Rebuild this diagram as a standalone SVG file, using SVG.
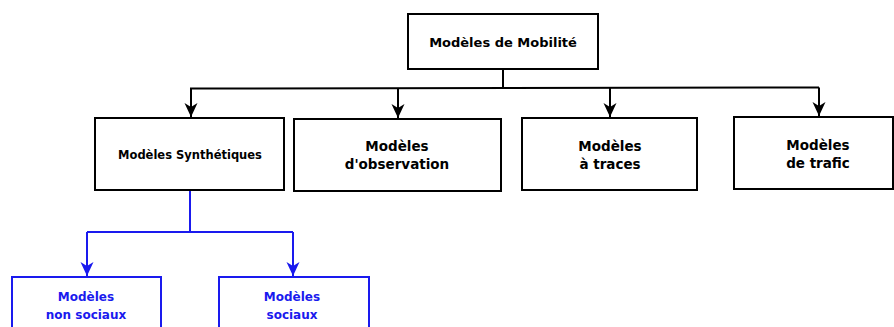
<svg xmlns="http://www.w3.org/2000/svg" width="894" height="327" viewBox="0 0 894 327">
  <style>
    .box { fill: #ffffff; stroke: #000000; stroke-width: 2; }
    .sub { fill: #ffffff; stroke: #1a1aee; stroke-width: 2; }
    .lbl { font-family: "DejaVu Sans", Verdana, sans-serif; font-weight: bold; text-anchor: middle; fill: #000000; }
    .blbl { font-family: "DejaVu Sans", Verdana, sans-serif; font-weight: bold; text-anchor: middle; fill: #1a1aee; font-size: 12px; }
    .wire { fill: none; stroke: #000000; stroke-width: 2; }
    .bwire { fill: none; stroke: #1a1aee; stroke-width: 2; }
  </style>
  <defs>
    <marker id="ah" markerWidth="15" markerHeight="14" refX="14" refY="7" orient="auto" markerUnits="userSpaceOnUse">
      <path d="M0,0.5 L14,7 L0,13.5 L4,7 Z" fill="#000000"/>
    </marker>
    <marker id="bah" markerWidth="15" markerHeight="14" refX="14" refY="7" orient="auto" markerUnits="userSpaceOnUse">
      <path d="M0,0.5 L14,7 L0,13.5 L4,7 Z" fill="#1a1aee"/>
    </marker>
  </defs>

  <g id="connectors">
    <path class="wire" d="M503,69 V88"/>
    <path class="wire" d="M190,88.5 L819,87.5"/>
    <path class="wire" d="M191,88.5 V117" marker-end="url(#ah)"/>
    <path class="wire" d="M398,88 V118" marker-end="url(#ah)"/>
    <path class="wire" d="M610,88 V117" marker-end="url(#ah)"/>
    <path class="wire" d="M819,87.5 V116" marker-end="url(#ah)"/>
    <path class="bwire" d="M190,191 V232"/>
    <path class="bwire" d="M87,232 H293"/>
    <path class="bwire" d="M87,232 V276" marker-end="url(#bah)"/>
    <path class="bwire" d="M293,232 V276" marker-end="url(#bah)"/>
  </g>

  <g id="mobilite">
    <rect class="box" x="408" y="14" width="190" height="55"/>
    <text class="lbl" x="503" y="47" font-size="13">Modèles de Mobilité</text>
  </g>

  <g id="synthetiques">
    <rect class="box" x="95" y="118" width="189" height="72"/>
    <text class="lbl" x="190" y="159" font-size="11.5">Modèles Synthétiques</text>
  </g>

  <g id="observation">
    <rect class="box" x="294" y="119" width="207" height="72"/>
    <text class="lbl" x="397" y="151" font-size="13.5">Modèles</text>
    <text class="lbl" x="397" y="169" font-size="13.5">d'observation</text>
  </g>

  <g id="traces">
    <rect class="box" x="522" y="118" width="175" height="72"/>
    <text class="lbl" x="610" y="151" font-size="13.5">Modèles</text>
    <text class="lbl" x="610" y="169" font-size="13.5">à traces</text>
  </g>

  <g id="trafic">
    <rect class="box" x="734" y="117" width="159" height="72"/>
    <text class="lbl" x="818" y="150" font-size="13.5">Modèles</text>
    <text class="lbl" x="818" y="168" font-size="13.5">de trafic</text>
  </g>

  <g id="non-sociaux">
    <rect class="sub" x="12" y="277" width="149" height="60"/>
    <text class="blbl" x="86" y="301">Modèles</text>
    <text class="blbl" x="86" y="319">non sociaux</text>
  </g>

  <g id="sociaux">
    <rect class="sub" x="219" y="277" width="150" height="60"/>
    <text class="blbl" x="292" y="301">Modèles</text>
    <text class="blbl" x="292" y="319">sociaux</text>
  </g>
</svg>
